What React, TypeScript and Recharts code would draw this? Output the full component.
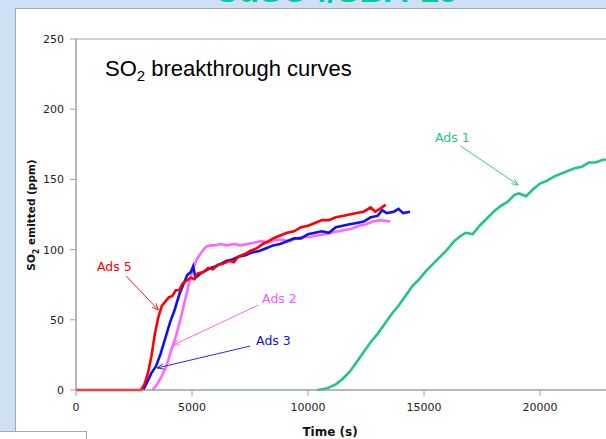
import {
  LineChart,
  Line,
  XAxis,
  YAxis,
  ReferenceLine,
  ReferenceDot,
  ReferenceArea,
} from "recharts";

// time (s) vs SO2 emitted (ppm)
const ads5 = [
  [0, 0], [2800, 0], [2950, 4], [3100, 12], [3250, 24], [3400, 40], [3550, 52],
  [3700, 60], [3850, 63], [4000, 66], [4150, 67], [4300, 71], [4450, 71],
  [4600, 76], [4780, 78], [4950, 80], [5100, 79], [5250, 83], [5500, 84],
  [5700, 87], [5900, 86], [6100, 89], [6350, 90], [6600, 92], [6800, 91],
  [7000, 95], [7300, 97], [7500, 99], [7800, 101], [8050, 104], [8300, 106],
  [8500, 108], [8800, 110], [9100, 112], [9400, 113], [9700, 116], [10000, 117],
  [10300, 119], [10600, 121], [10900, 121], [11200, 123], [11500, 124],
  [11800, 125], [12100, 126], [12400, 127], [12700, 130], [12900, 127],
  [13100, 129], [13350, 132],
].map(([t, v]) => ({ t, v }));

const ads3 = [
  [2900, 0], [3050, 5], [3250, 12], [3450, 17], [3650, 26], [3850, 37],
  [4050, 48], [4250, 57], [4450, 68], [4650, 76], [4800, 82], [4950, 84],
  [5050, 88], [5150, 80], [5300, 82], [5450, 84], [5600, 85], [5800, 87],
  [6000, 88], [6250, 90], [6500, 92], [6750, 93], [7000, 95], [7300, 96],
  [7600, 98], [7900, 99], [8200, 101], [8500, 103], [8800, 104], [9100, 106],
  [9400, 108], [9700, 108], [10000, 111], [10300, 112], [10600, 113],
  [10900, 112], [11200, 116], [11500, 117], [11800, 118], [12100, 119],
  [12400, 120], [12700, 123], [13000, 124], [13200, 128], [13400, 126],
  [13700, 127], [13900, 129], [14100, 126], [14400, 127],
].map(([t, v]) => ({ t, v }));

const ads2 = [
  [3300, 0], [3500, 4], [3700, 10], [3900, 17], [4100, 28], [4300, 38],
  [4500, 50], [4700, 64], [4900, 78], [5050, 87], [5200, 93], [5400, 98],
  [5600, 102], [5800, 103], [6000, 103], [6200, 104], [6500, 103], [6800, 104],
  [7100, 103], [7400, 104], [7700, 105], [8000, 106], [8300, 105], [8600, 107],
  [8900, 107], [9200, 106], [9500, 108], [9800, 109], [10100, 109],
  [10400, 110], [10700, 111], [11000, 112], [11300, 113], [11600, 114],
  [11900, 115], [12200, 117], [12500, 118], [12800, 120], [13100, 121],
  [13550, 120],
].map(([t, v]) => ({ t, v }));

const ads1Base = [
  [3300, 0], [10500, 0],
].map(([t, v]) => ({ t, v }));

const ads1 = [
  [10400, 0], [10800, 1], [11200, 4], [11500, 8], [11800, 13], [12100, 20],
  [12400, 27], [12700, 34], [13000, 40], [13300, 47], [13600, 54], [13900, 60],
  [14200, 67], [14500, 74], [14800, 79], [15100, 85], [15400, 90], [15700, 95],
  [16000, 100], [16300, 106], [16600, 110], [16800, 112], [17100, 111],
  [17400, 117], [17700, 122], [18000, 127], [18300, 131], [18600, 134],
  [18900, 139], [19100, 140], [19400, 138], [19700, 143], [20000, 147],
  [20300, 149], [20600, 152], [20900, 154], [21200, 156], [21500, 158],
  [21800, 159], [22100, 162], [22400, 162], [22700, 164], [23000, 164],
].map(([t, v]) => ({ t, v }));

const xTicks = [0, 5000, 10000, 15000, 20000];
const yTicks = [0, 50, 100, 150, 200, 250];

// annotation: label position, arrow start, arrow end
const notes = [
  { text: "Ads 1", color: "#1fc48f", at: [16220, 180], from: [16560, 174], to: [19060, 146] },
  { text: "Ads 5", color: "#ff0000", at: [1650, 88], from: [2170, 81], to: [3550, 57] },
  { text: "Ads 2", color: "#ff55ff", at: [8770, 65.5], from: [7860, 60.5], to: [4190, 32] },
  { text: "Ads 3", color: "#1010e8", at: [8510, 35.6], from: [7510, 31.3], to: [3500, 15.7] },
];

const Arrow = (color: string) => (p: any) => {
  const { x1, y1, x2, y2 } = p;
  const a = Math.atan2(y2 - y1, x2 - x1);
  const s = 7;
  const h1 = [x2 - s * Math.cos(a - 0.4), y2 - s * Math.sin(a - 0.4)];
  const h2 = [x2 - s * Math.cos(a + 0.4), y2 - s * Math.sin(a + 0.4)];
  return (
    <g stroke={color} strokeWidth={0.9} fill="none">
      <line x1={x1} y1={y1} x2={x2} y2={y2} />
      <polyline points={`${h1[0]},${h1[1]} ${x2},${y2} ${h2[0]},${h2[1]}`} />
    </g>
  );
};

const NoteText = (text: string, color: string) => (p: any) => (
  <text
    x={p.cx}
    y={p.cy}
    textAnchor="middle"
    dominantBaseline="central"
    fill={color}
    fontSize={12.5}
    fontFamily="DejaVu Sans"
  >
    {text}
  </text>
);

export default function App() {
  return (
    <div
      style={{
        position: "absolute",
        left: 0,
        top: 0,
        width: 606,
        height: 439,
        overflow: "hidden",
        background: "#cfe0f6",
      }}
    >
      <div
        style={{
          position: "absolute",
          left: 214,
          top: -27,
          fontFamily: "Liberation Sans",
          fontWeight: "bold",
          fontSize: 34,
          lineHeight: "34px",
          color: "#00cc99",
          whiteSpace: "nowrap",
        }}
      >
        CuSO4/SBA-15
      </div>
      <div
        style={{
          position: "absolute",
          left: 15,
          top: 8,
          right: -2,
          bottom: -2,
          background: "#fff",
          borderTop: "1px solid #a8a8a8",
          borderLeft: "1px solid #a8a8a8",
        }}
      />
      <div
        style={{
          position: "absolute",
          left: 0,
          top: 431,
          width: 86,
          height: 20,
          background: "#fff",
          borderTop: "1px solid #a8a8a8",
          borderRight: "1px solid #a8a8a8",
        }}
      />
      <div style={{ position: "absolute", left: 0, top: 0 }}>
        <LineChart
          width={700}
          height={439}
          margin={{ top: 39, right: 44, bottom: 19, left: 0 }}
        >
          <ReferenceArea
            x1={0}
            x2={25000}
            y1={0}
            y2={250}
            fill="none"
            stroke="#a0a0a0"
            strokeWidth={1}
          />
          <XAxis
            type="number"
            dataKey="t"
            domain={[0, 25000]}
            ticks={xTicks}
            allowDataOverflow
            height={30}
            tickMargin={7}
            stroke="#a0a0a0"
            tick={{ fill: "#222", fontSize: 11, fontFamily: "DejaVu Sans" }}
          />
          <YAxis
            type="number"
            dataKey="v"
            domain={[0, 250]}
            ticks={yTicks}
            width={76}
            tickMargin={6}
            stroke="#a0a0a0"
            tick={{ fill: "#222", fontSize: 11, fontFamily: "DejaVu Sans" }}
          />
          <Line data={ads1Base} dataKey="v" stroke="#7fe0c0" strokeWidth={1.2} strokeDasharray="6 3" dot={false} isAnimationActive={false} />
          <Line data={ads1} dataKey="v" stroke="#1fc48f" strokeWidth={2.6} dot={false} isAnimationActive={false} />
          <Line data={ads2} dataKey="v" stroke="#ff66ff" strokeWidth={2.6} dot={false} isAnimationActive={false} />
          <Line data={ads3} dataKey="v" stroke="#1010f0" strokeWidth={2.6} dot={false} isAnimationActive={false} />
          <Line data={ads5} dataKey="v" stroke="#ff0000" strokeWidth={2.6} dot={false} isAnimationActive={false} />
          {notes.map((n) => (
            <ReferenceLine
              key={n.text + "a"}
              segment={[
                { x: n.from[0], y: n.from[1] },
                { x: n.to[0], y: n.to[1] },
              ]}
              shape={Arrow(n.color)}
            />
          ))}
          {notes.map((n) => (
            <ReferenceDot
              key={n.text + "t"}
              x={n.at[0]}
              y={n.at[1]}
              r={0}
              shape={NoteText(n.text, n.color)}
            />
          ))}
        </LineChart>
      </div>
      <div
        style={{
          position: "absolute",
          left: 105,
          top: 56,
          fontFamily: "Liberation Sans",
          fontSize: 22,
          color: "#000",
          whiteSpace: "nowrap",
        }}
      >
        SO<sub style={{ fontSize: 15 }}>2</sub> breakthrough curves
      </div>
      <div
        style={{
          position: "absolute",
          left: 33,
          top: 215,
          transform: "translate(-50%, -50%) rotate(-90deg)",
          fontFamily: "DejaVu Sans",
          fontWeight: "bold",
          fontSize: 10.5,
          color: "#111",
          whiteSpace: "nowrap",
        }}
      >
        SO<sub style={{ fontSize: 8 }}>2</sub> emitted (ppm)
      </div>
      <div
        style={{
          position: "absolute",
          left: 330,
          top: 432,
          transform: "translate(-50%, -50%)",
          fontFamily: "DejaVu Sans",
          fontWeight: "bold",
          fontSize: 12,
          color: "#111",
          whiteSpace: "nowrap",
        }}
      >
        Time (s)
      </div>
    </div>
  );
}
